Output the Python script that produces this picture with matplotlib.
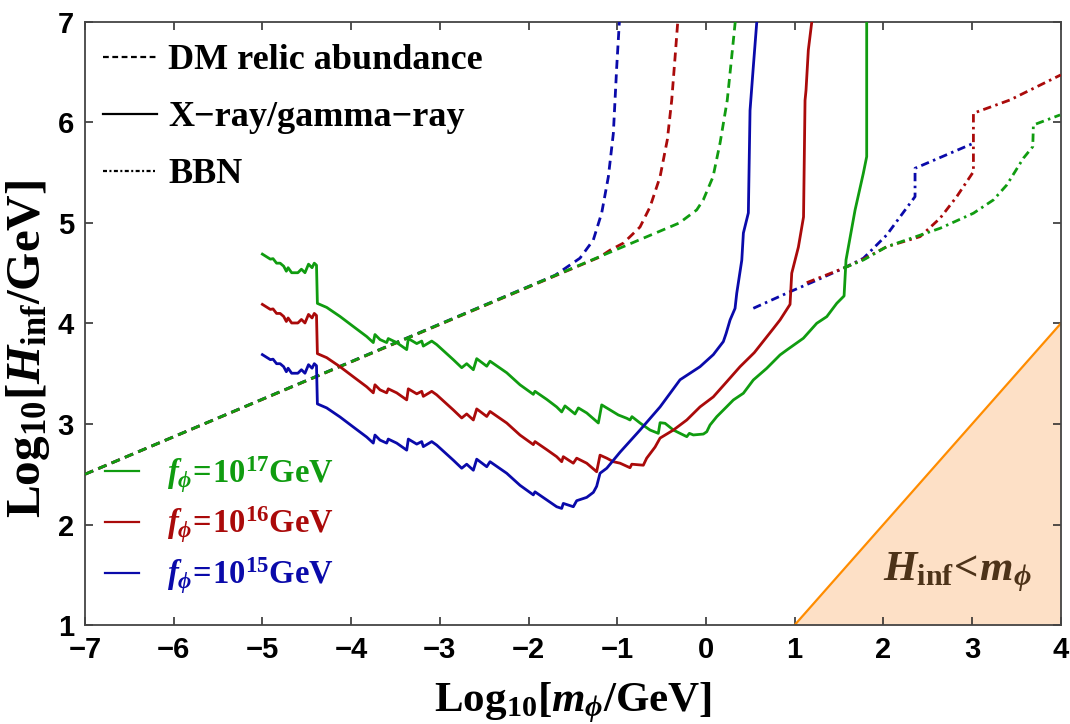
import numpy as np
import matplotlib
matplotlib.use('Agg')
import matplotlib.pyplot as plt
from matplotlib.lines import Line2D
from matplotlib.font_manager import FontProperties

plt.rcParams['mathtext.fontset'] = 'custom'
plt.rcParams['mathtext.rm'] = 'Liberation Serif:bold'
plt.rcParams['mathtext.it'] = 'Liberation Serif:bold:italic'
plt.rcParams['mathtext.bf'] = 'Liberation Serif:bold'

# colours of the three decay constants
c_green = '#109c10'
c_red = '#aa0a0a'
c_blue = '#0a0aaa'

# ---- DM relic abundance (dashed) ----
dm_x_blue = [-7, -1.7, -1.42, -1.27, -1.175, -1.10, -1.044, -1.006, -0.976]
dm_y_blue = [2.5, 4.48, 4.65, 4.83, 5.10, 5.46, 5.89, 6.55, 7.0]
dm_x_red = [-7, -1.2, -1.08, -0.93, -0.743, -0.63, -0.517, -0.435, -0.386, -0.348, -0.318]
dm_y_red = [2.5, 4.66, 4.73, 4.80, 4.96, 5.16, 5.46, 5.83, 6.22, 6.65, 7.0]
dm_x_green = [-7, -0.3, -0.104, -0.03, 0.08, 0.16, 0.24, 0.29, 0.33]
dm_y_green = [2.5, 5.0, 5.13, 5.23, 5.46, 5.80, 6.22, 6.65, 7.0]

# ---- X-ray / gamma-ray (solid) ----
# low-mass part, common mass grid
xr_x_low = [-5.00, -4.91, -4.88, -4.84, -4.80, -4.76, -4.73, -4.71, -4.67, -4.60, -4.56,
            -4.52, -4.48, -4.44, -4.415, -4.39, -4.38, -4.275, -4.125, -3.975, -3.824,
            -3.750, -3.731, -3.674, -3.599, -3.581, -3.486, -3.373, -3.355, -3.260, -3.204,
            -3.186, -3.091, -3.035, -2.848, -2.753, -2.697, -2.622, -2.584, -2.471, -2.434,
            -2.246, -2.096, -1.946, -1.927, -1.795]
xr_y_low_blue = [3.69, 3.64, 3.645, 3.60, 3.60, 3.57, 3.52, 3.555, 3.505, 3.505, 3.54,
                 3.505, 3.59, 3.555, 3.60, 3.58, 3.20, 3.16, 3.07, 2.97, 2.87,
                 2.81, 2.89, 2.84, 2.81, 2.85, 2.81, 2.74, 2.85, 2.80, 2.825,
                 2.775, 2.825, 2.79, 2.64, 2.56, 2.60, 2.54, 2.65, 2.575, 2.625,
                 2.51, 2.39, 2.295, 2.325, 2.245]
xr_y_low_red = [4.19, 4.14, 4.145, 4.10, 4.10, 4.07, 4.02, 4.055, 4.005, 4.005, 4.04,
                4.005, 4.09, 4.055, 4.10, 4.08, 3.70, 3.66, 3.57, 3.47, 3.37,
                3.31, 3.39, 3.34, 3.31, 3.35, 3.31, 3.24, 3.35, 3.30, 3.325,
                3.275, 3.325, 3.29, 3.14, 3.06, 3.10, 3.04, 3.15, 3.075, 3.125,
                3.01, 2.89, 2.795, 2.825, 2.745]
xr_y_low_green = [4.69, 4.64, 4.645, 4.60, 4.60, 4.57, 4.52, 4.555, 4.505, 4.505, 4.54,
                  4.505, 4.59, 4.555, 4.60, 4.58, 4.20, 4.16, 4.07, 3.97, 3.87,
                  3.81, 3.89, 3.84, 3.81, 3.85, 3.81, 3.74, 3.85, 3.80, 3.825,
                  3.775, 3.825, 3.79, 3.64, 3.56, 3.60, 3.54, 3.65, 3.575, 3.625,
                  3.51, 3.39, 3.295, 3.325, 3.245]
# high-mass parts
xr_x_hi_blue = [-1.683, -1.626, -1.608, -1.495, -1.457, -1.344, -1.269, -1.232, -1.194,
                -1.118, -0.968, -0.743, -0.517, -0.292, -0.067, 0.083, 0.196, 0.227,
                0.272, 0.328, 0.347, 0.404, 0.422, 0.478, 0.497, 0.534, 0.573]
xr_y_hi_blue = [2.177, 2.16, 2.21, 2.177, 2.237, 2.27, 2.32, 2.38, 2.51,
                2.56, 2.72, 2.94, 3.17, 3.44, 3.57, 3.69, 3.82, 3.90,
                4.035, 4.15, 4.30, 4.63, 4.90, 5.10, 6.12, 6.555, 7.0]
xr_x_hi_red = [-1.683, -1.626, -1.608, -1.495, -1.457, -1.344, -1.232, -1.194, -1.118,
               -1.044, -0.968, -0.856, -0.836, -0.706, -0.668, -0.574, -0.517, -0.367,
               -0.216, -0.067, 0.083, 0.234, 0.384, 0.545, 0.760, 0.835, 0.948, 0.967,
               1.042, 1.10, 1.117, 1.128, 1.154, 1.193]
xr_y_hi_red = [2.675, 2.625, 2.675, 2.61, 2.66, 2.61, 2.525, 2.69, 2.66,
               2.625, 2.61, 2.565, 2.60, 2.59, 2.66, 2.77, 2.86, 2.94,
               3.04, 3.17, 3.27, 3.42, 3.57, 3.71, 3.95, 4.035, 4.19, 4.50,
               4.76, 5.06, 6.22, 6.32, 6.72, 7.0]
xr_x_hi_green = [-1.683, -1.626, -1.589, -1.532, -1.476, -1.438, -1.344, -1.213, -1.175,
                 -1.081, -0.988, -0.893, -0.856, -0.834, -0.743, -0.630, -0.537, -0.517,
                 -0.461, -0.367, -0.292, -0.216, -0.187, -0.142, -0.029, 0.009, 0.046,
                 0.122, 0.234, 0.309, 0.422, 0.534, 0.685, 0.835, 0.911, 1.098, 1.249,
                 1.362, 1.475, 1.557, 1.579, 1.681, 1.774, 1.812, 1.812]
xr_y_hi_green = [3.17, 3.12, 3.18, 3.14, 3.10, 3.16, 3.11, 3.01, 3.19,
                 3.14, 3.09, 3.057, 3.04, 3.073, 3.01, 2.94, 2.907, 3.013,
                 3.007, 2.94, 2.907, 2.874, 2.907, 2.891, 2.90, 2.923, 2.99,
                 3.073, 3.172, 3.239, 3.306, 3.438, 3.554, 3.687, 3.736, 3.853, 4.002,
                 4.068, 4.201, 4.274, 4.632, 5.129, 5.494, 5.66, 7.0]

# ---- BBN (dash-dot) ----
bbn_x_blue = [0.534, 0.948, 1.211, 1.549, 1.775, 2.038, 2.245, 2.357, 2.357, 3.015]
bbn_y_blue = [4.151, 4.316, 4.416, 4.549, 4.649, 4.881, 5.129, 5.262, 5.544, 5.793]
bbn_x_red = [1.136, 1.549, 1.775, 2.038, 2.414, 2.639, 2.827, 3.015, 3.015, 3.428, 4.0]
bbn_y_red = [4.406, 4.549, 4.640, 4.764, 4.864, 5.047, 5.262, 5.510, 6.092, 6.224, 6.473]
bbn_x_green = [1.55, 1.775, 2.038, 2.639, 3.015, 3.240, 3.391, 3.578, 3.684, 3.691, 3.992]
bbn_y_green = [4.55, 4.632, 4.764, 4.947, 5.097, 5.229, 5.378, 5.644, 5.759, 5.975, 6.075]

# excluded region H_inf < m_phi
excl_m = [1, 4]
excl_H = [1, 4]

f_labels = [r'$f_{\phi}\!=\!10^{17}\mathrm{GeV}$',
            r'$f_{\phi}\!=\!10^{16}\mathrm{GeV}$',
            r'$f_{\phi}\!=\!10^{15}\mathrm{GeV}$']
style_labels = ['DM relic abundance', 'X\u2212ray/gamma\u2212ray', 'BBN']

lw = 2.0
dash = (0, (3.2, 2.0))
dashdot = (0, (3.0, 1.6, 0.9, 1.6))

fig = plt.figure(figsize=(10.7, 7.24), dpi=100)
ax = fig.add_axes([0.0794, 0.1367, 0.912, 0.833])

ax.fill_between(excl_m, excl_H, 1, color='#fde0c6', lw=0, zorder=1)
ax.plot(excl_m, excl_H, color='#ff8c00', lw=1.6, zorder=2)
ax.text(2.83, 1.52, r'$H_{\mathrm{inf}}\!<\!m_{\phi}$', color='#4d3319',
        fontsize=31, ha='center', va='center')

for xs, ys, c in [(dm_x_blue, dm_y_blue, c_blue), (dm_x_red, dm_y_red, c_red),
                  (dm_x_green, dm_y_green, c_green)]:
    ax.plot(xs, ys, color=c, lw=lw, ls=dash, zorder=3)

for xs, ys, c in [(bbn_x_blue, bbn_y_blue, c_blue), (bbn_x_red, bbn_y_red, c_red),
                  (bbn_x_green, bbn_y_green, c_green)]:
    ax.plot(xs, ys, color=c, lw=lw, ls=dashdot, zorder=3)

for ylow, xhi, yhi, c in [(xr_y_low_green, xr_x_hi_green, xr_y_hi_green, c_green),
                          (xr_y_low_red, xr_x_hi_red, xr_y_hi_red, c_red),
                          (xr_y_low_blue, xr_x_hi_blue, xr_y_hi_blue, c_blue)]:
    ax.plot(xr_x_low + xhi, ylow + yhi, color=c, lw=lw, zorder=4)

ax.set_xlim(-7, 4)
ax.set_ylim(1, 7)
ax.set_xticks(range(-7, 5))
ax.set_yticks(range(1, 8))
ax.set_xticklabels(['\u2212%d' % -v if v < 0 else '%d' % v for v in range(-7, 5)])
ax.tick_params(direction='in', length=6, width=1.1, top=True, right=True,
               labelsize=21, pad=8, colors='#222222', labelcolor='black')
for lab in ax.get_xticklabels() + ax.get_yticklabels():
    lab.set_family('Liberation Sans')
    lab.set_fontweight('bold')
for s in ax.spines.values():
    s.set_color('#444444')
    s.set_linewidth(1.3)

ax.set_xlabel(r'$\mathrm{Log}_{10}[m_{\phi}/\mathrm{GeV}]$', fontsize=31, labelpad=12)
ax.set_ylabel(r'$\mathrm{Log}_{10}[H_{\mathrm{inf}}/\mathrm{GeV}]$', fontsize=35.5)
ax.yaxis.set_label_coords(-0.034, 0.458)

hs = [Line2D([], [], color='k', lw=1.6, ls=(0, (2.6, 1.6))),
      Line2D([], [], color='k', lw=1.6),
      Line2D([], [], color='k', lw=1.6, ls=(0, (1.8, 1.1, 0.9, 1.1)))]
leg1 = ax.legend(hs, style_labels, loc='upper left', bbox_to_anchor=(0, 0.9934),
                 frameon=False,
                 prop=FontProperties(family='Liberation Serif', weight='bold', size=26),
                 handlelength=1.5, handletextpad=0.3, borderpad=0.2,
                 borderaxespad=0.3, labelspacing=0.66)
ax.add_artist(leg1)

hs2 = [Line2D([], [], color=c, lw=1.6) for c in (c_green, c_red, c_blue)]
leg2 = ax.legend(hs2, f_labels, loc='lower left', bbox_to_anchor=(0, 0.015),
                 frameon=False, fontsize=23.5,
                 handlelength=1.05, handletextpad=0.85, borderpad=0.2,
                 borderaxespad=0.4, labelspacing=0.32, labelcolor='linecolor')

fig.savefig('out.png', dpi=100)
